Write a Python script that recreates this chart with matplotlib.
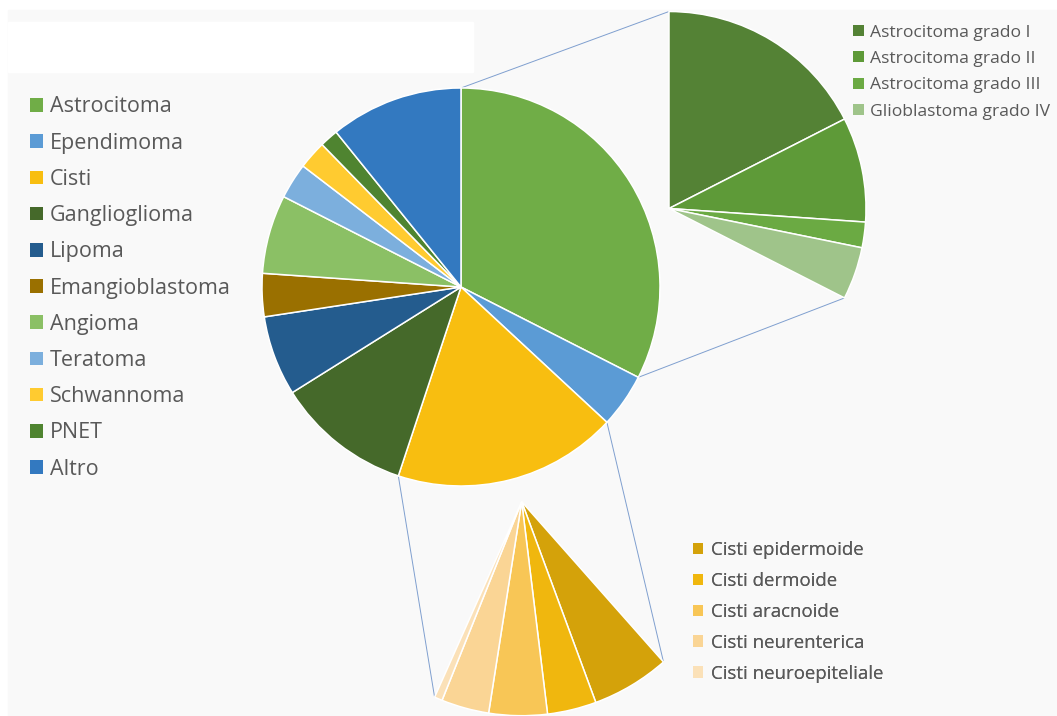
import numpy as np
import matplotlib
matplotlib.use('Agg')
import matplotlib.pyplot as plt
from matplotlib.patches import Patch, Rectangle

# Quote percentuali sul totale dei tumori
main_labels = ['Astrocitoma', 'Ependimoma', 'Cisti', 'Ganglioglioma', 'Lipoma',
               'Emangioblastoma', 'Angioma', 'Teratoma', 'Schwannoma', 'PNET', 'Altro']
main_values = [32.5, 4.4, 18.2, 11.0, 6.5, 3.5, 6.4, 2.9, 2.3, 1.5, 10.8]
main_colors = ['#70AD47', '#5B9BD5', '#F8BE10', '#45692A', '#245C8E', '#9A7000',
               '#8BC065', '#7CAFDD', '#FFCB30', '#4F8430', '#3379C0']

astro_labels = ['Astrocitoma grado I', 'Astrocitoma grado II',
                'Astrocitoma grado III', 'Glioblastoma grado IV']
astro_values = [17.5, 8.6, 2.1, 4.3]
astro_colors = ['#548235', '#5E9A38', '#6BAA43', '#9FC48A']

cisti_labels = ['Cisti epidermoide', 'Cisti dermoide', 'Cisti aracnoide',
                'Cisti neurenterica', 'Cisti neuroepiteliale']
cisti_values = [5.9, 3.7, 4.4, 3.6, 0.6]
cisti_colors = ['#D4A20A', '#F0B70E', '#F8C656', '#FAD595', '#FBE1B8']

W, H = 1057, 716
TXT = '#595959'
LINK = '#7F9FCF'
plt.rcParams['font.family'] = ['Open Sans', 'DejaVu Sans']


def py(y):
    # coordinate verticale dall'alto
    return H - y


def edge(center, r, ang):
    a = np.deg2rad(ang)
    return center[0] + r * np.cos(a), center[1] + r * np.sin(a)


fig = plt.figure(figsize=(W / 100, H / 100), dpi=100)
ax = fig.add_axes([0, 0, 1, 1])
ax.axis('off')

ax.add_patch(Rectangle((8, 0), W - 8, py(10), color='#F9F9F9', zorder=0))
ax.add_patch(Rectangle((8, py(72)), 465, 50, color='white', zorder=0))

wp = dict(edgecolor='white', linewidth=1.1)

# torta principale
c_main, r_main = (461, py(287)), 199
ax.pie(main_values, colors=main_colors, startangle=90, counterclock=False,
       center=c_main, radius=r_main, wedgeprops=wp)

# dettaglio astrocitomi (stessa scala, porzione di cerchio)
c_astro, r_astro = (669, py(208.5)), 197
ax.pie(np.array(astro_values) / 100, normalize=False, colors=astro_colors,
       startangle=90, counterclock=False, center=c_astro, radius=r_astro,
       wedgeprops=wp)

# dettaglio cisti
c_cisti, r_cisti, start_cisti = (521.7, py(501.7)), 214, -48.5
ax.pie(np.array(cisti_values) / 100, normalize=False, colors=cisti_colors,
       startangle=start_cisti, counterclock=False, center=c_cisti,
       radius=r_cisti, wedgeprops=wp)

# linee di collegamento
cum = np.cumsum([0] + main_values)
ang_main = 90 - cum * 3.6
a_astro_end = 90 - sum(astro_values) * 3.6
a_cisti_end = start_cisti - sum(cisti_values) * 3.6
pairs = [
    (edge(c_main, r_main, ang_main[0]), edge(c_astro, r_astro, 90)),
    (edge(c_main, r_main, ang_main[1]), edge(c_astro, r_astro, a_astro_end)),
    (edge(c_main, r_main, ang_main[2]), edge(c_cisti, r_cisti, start_cisti)),
    (edge(c_main, r_main, ang_main[3]), edge(c_cisti, r_cisti, a_cisti_end)),
]
for p0, p1 in pairs:
    ax.plot([p0[0], p1[0]], [p0[1], p1[1]], color=LINK, lw=0.7, zorder=0.5)

ax.set_xlim(0, W)
ax.set_ylim(0, H)


def add_legend(labels, colors, x, y, size, spacing, hsize, pad):
    handles = [Patch(facecolor=c, edgecolor='none') for c in colors]
    leg = ax.legend(handles, labels, loc='upper left',
                    bbox_to_anchor=(x / W, 1 - y / H), bbox_transform=fig.transFigure,
                    frameon=False, fontsize=size, labelspacing=spacing,
                    handlelength=hsize, handleheight=hsize, handletextpad=pad,
                    borderpad=0, borderaxespad=0, labelcolor=TXT)
    ax.add_artist(leg)
    return leg


add_legend(main_labels, main_colors, 30, 96.5, 15.5, 0.707, 0.59, 0.33)
add_legend(astro_labels, astro_colors, 853, 24.7, 12.6, 0.59, 0.61, 0.35)
add_legend(cisti_labels, cisti_colors, 693, 541, 13.4, 0.693, 0.56, 0.43)

fig.savefig('out.png', dpi=100, facecolor='white')
